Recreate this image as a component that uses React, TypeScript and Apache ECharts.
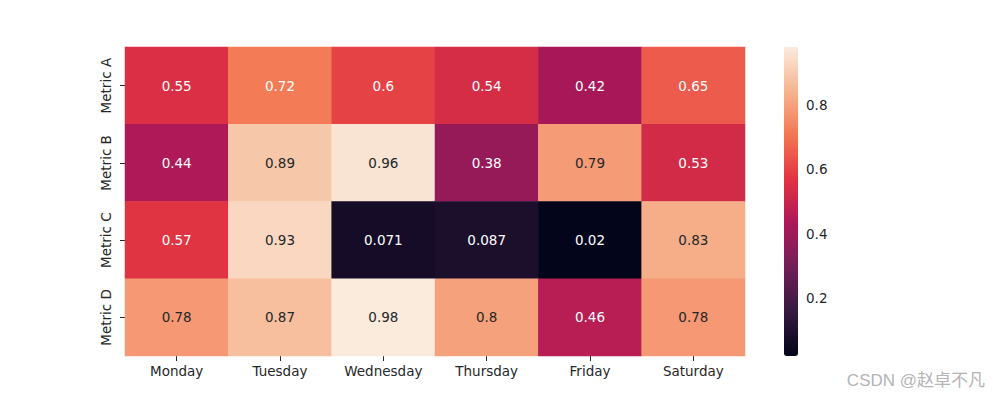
import React, { useEffect, useRef } from "react";
import * as echarts from "echarts";

const days = ["Monday", "Tuesday", "Wednesday", "Thursday", "Friday", "Saturday"];
const metrics = ["Metric A", "Metric B", "Metric C", "Metric D"];
const metricA = [0.55, 0.72, 0.6, 0.54, 0.42, 0.65];
const metricB = [0.44, 0.89, 0.96, 0.38, 0.79, 0.53];
const metricC = [0.57, 0.93, 0.071, 0.087, 0.02, 0.83];
const metricD = [0.78, 0.87, 0.98, 0.8, 0.46, 0.78];
const rows = [metricA, metricB, metricC, metricD];
const colorbarTicks = [0.2, 0.4, 0.6, 0.8];
const vmin = 0.02;
const vmax = 0.98;

const rocket = ["#03051a", "#35193e", "#701f57", "#ad1759", "#e13342", "#f37651", "#f6b48f", "#faebdd"];

export default function App() {
  const ref = useRef<HTMLDivElement>(null);
  useEffect(() => {
    if (!ref.current) return;
    const chart = echarts.init(ref.current, null, { renderer: "svg" });
    const data: any[] = [];
    rows.forEach((row, yi) => {
      row.forEach((v, xi) => {
        data.push({
          value: [xi, yi, v],
          label: { color: v > 0.75 ? "#262626" : "#ffffff" },
        });
      });
    });
    const font = "DejaVu Sans";
    chart.setOption({
      animation: false,
      textStyle: { fontFamily: font },
      grid: [
        { left: 125, top: 47, width: 620, height: 309 },
        { left: 784, top: 47, width: 14, height: 309 },
      ],
      xAxis: [
        {
          type: "category",
          data: days,
          gridIndex: 0,
          position: "bottom",
          axisLine: { show: false },
          axisTick: { show: true, alignWithLabel: true, length: 5, lineStyle: { color: "#262626" } },
          axisLabel: { color: "#262626", fontSize: 13.5, fontFamily: font, margin: 8 },
          splitLine: { show: false },
        },
        { type: "value", gridIndex: 1, show: false },
      ],
      yAxis: [
        {
          type: "category",
          data: metrics,
          gridIndex: 0,
          inverse: true,
          axisLine: { show: false },
          axisTick: { show: true, alignWithLabel: true, length: 5, lineStyle: { color: "#262626" } },
          axisLabel: { color: "#262626", fontSize: 13.5, fontFamily: font, rotate: 90, margin: 12 },
          splitLine: { show: false },
        },
        {
          type: "value",
          gridIndex: 1,
          position: "right",
          min: vmin,
          max: vmax,
          axisLine: { show: false },
          splitLine: { show: false },
          axisTick: { show: true, length: 5, customValues: colorbarTicks, lineStyle: { color: "#262626" } },
          axisLabel: {
            customValues: colorbarTicks,
            color: "#262626",
            fontSize: 13.5,
            fontFamily: font,
            margin: 8,
            formatter: (v: number) => v.toFixed(1),
          },
        },
      ],
      visualMap: {
        type: "continuous",
        seriesIndex: 0,
        dimension: 2,
        min: vmin,
        max: vmax,
        calculable: false,
        hoverLink: false,
        orient: "vertical",
        left: 784,
        top: 47,
        itemWidth: 14,
        itemHeight: 309,
        padding: 0,
        inRange: { color: rocket },
        textStyle: { color: "transparent" },
      },
      series: [
        {
          type: "heatmap",
          xAxisIndex: 0,
          yAxisIndex: 0,
          data,
          label: {
            show: true,
            fontSize: 13.5,
            fontFamily: font,
            formatter: (p: any) => String(p.value[2]),
          },
          emphasis: { disabled: true },
        },
      ],
      graphic: [
        {
          type: "text",
          right: 15,
          top: 372,
          style: {
            text: "CSDN @赵卓不凡",
            fill: "#b4b4b4",
            fontSize: 17,
            fontFamily: "Liberation Sans, Noto Sans CJK SC",
          },
        },
      ],
    });
    return () => chart.dispose();
  }, []);
  return (
    <div
      ref={ref}
      style={{ position: "fixed", left: 0, top: 0, width: 1000, height: 400, background: "#fff" }}
    />
  );
}
